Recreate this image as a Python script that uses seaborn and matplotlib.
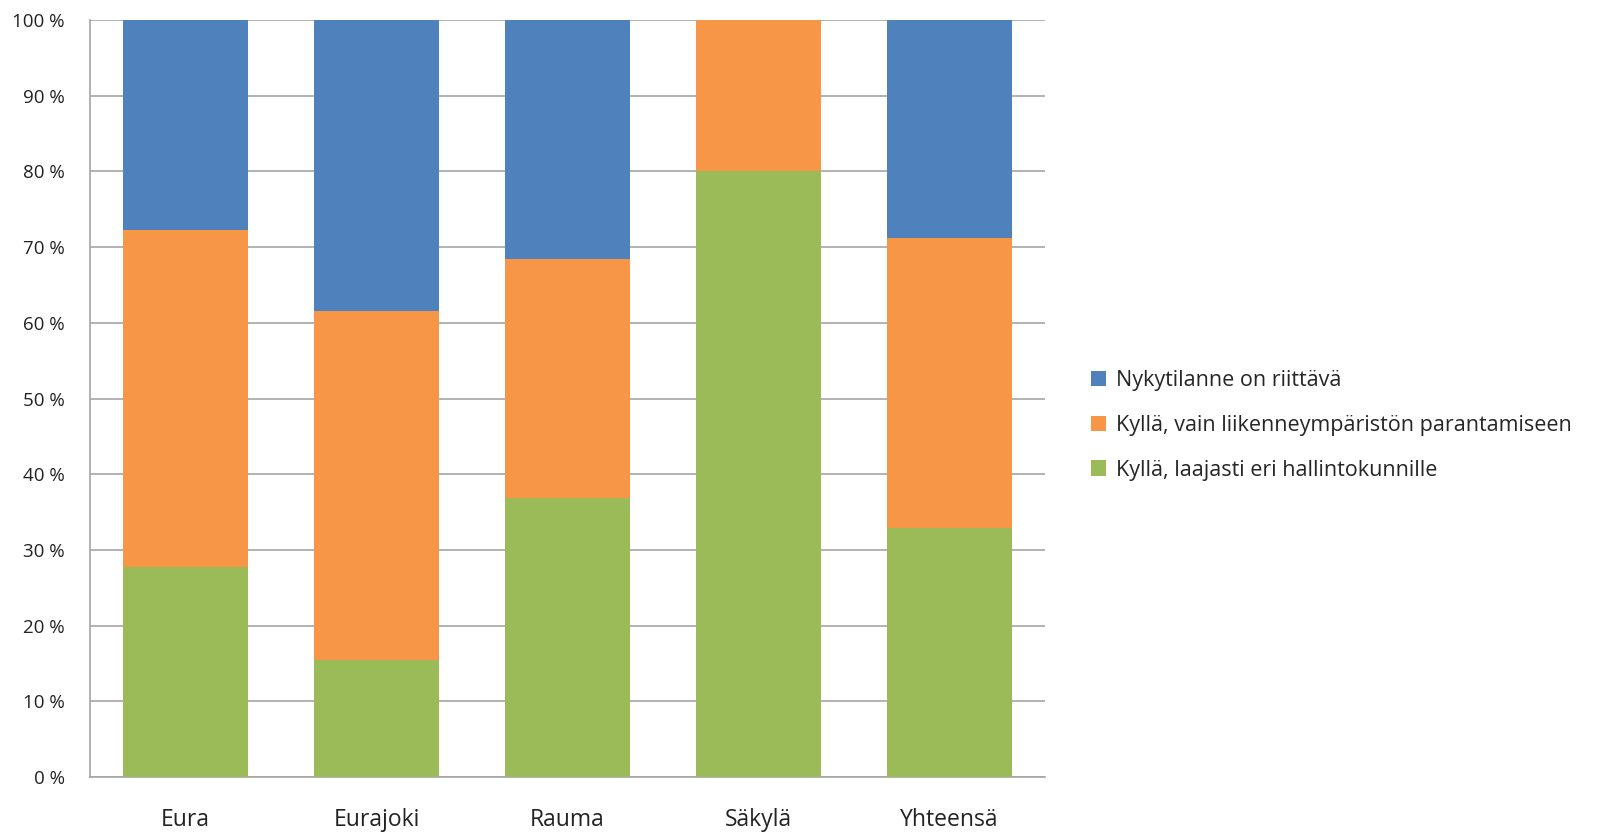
import matplotlib
matplotlib.use("Agg")
import matplotlib.pyplot as plt
import numpy as np
import pandas as pd
import seaborn as sns
from matplotlib.patches import Patch
from matplotlib.ticker import FuncFormatter

categories = ["Eura", "Eurajoki", "Rauma", "Säkylä", "Yhteensä"]
# share of answers per municipality, percent
laajasti = [27.8, 15.4, 36.8, 80.0, 32.9]
vain_liikenne = [44.4, 46.1, 31.6, 20.0, 38.3]
riittava = [27.8, 38.5, 31.6, 0.0, 28.8]

series_labels = [
    "Nykytilanne on riittävä",
    "Kyllä, vain liikenneympäristön parantamiseen",
    "Kyllä, laajasti eri hallintokunnille",
]
colors = ["#4F81BD", "#F79646", "#9BBB59"]

sns.set_style("white")
plt.rcParams["font.family"] = ["Open Sans", "DejaVu Sans"]

df = pd.DataFrame({
    "kunta": categories,
    "green": laajasti,
    "orange": np.add(laajasti, vain_liikenne),
    "blue": np.add(np.add(laajasti, vain_liikenne), riittava),
})

fig = plt.figure(figsize=(16.07, 8.34), dpi=100)
ax = fig.add_axes([90 / 1607, 1 - 777 / 834, 955 / 1607, 757 / 834])

# stacked bars: draw cumulative totals back to front
for col, c in zip(["blue", "orange", "green"], colors):
    sns.barplot(data=df, x="kunta", y=col, color=c, width=0.65,
                saturation=1, linewidth=0, ax=ax, zorder=3)

ax.set_ylim(0, 100)
ax.set_yticks(np.arange(0, 101, 10))
ax.yaxis.set_major_formatter(FuncFormatter(lambda v, _: f"{v:.0f} %"))
ax.grid(axis="y", color="#A6A6A6", linewidth=1.2, zorder=0)
ax.set_axisbelow(True)
ax.set_xlabel("")
ax.set_ylabel("")
ax.tick_params(axis="y", labelsize=13.5, length=0, pad=18, colors="#222222")
ax.tick_params(axis="x", labelsize=16.5, length=0, pad=22, colors="#222222")
for side in ["top", "right"]:
    ax.spines[side].set_visible(False)
for side in ["left", "bottom"]:
    ax.spines[side].set_color("#A6A6A6")
    ax.spines[side].set_linewidth(1.2)

handles = [Patch(facecolor=c, edgecolor="none") for c in colors]
fig.legend(handles, series_labels, loc="center left",
           bbox_to_anchor=(1072 / 1607, 0.49), frameon=False, fontsize=15.5,
           handlelength=0.7, handleheight=0.7, handletextpad=0.45,
           labelspacing=1.1)

fig.savefig("out.png", dpi=100)
